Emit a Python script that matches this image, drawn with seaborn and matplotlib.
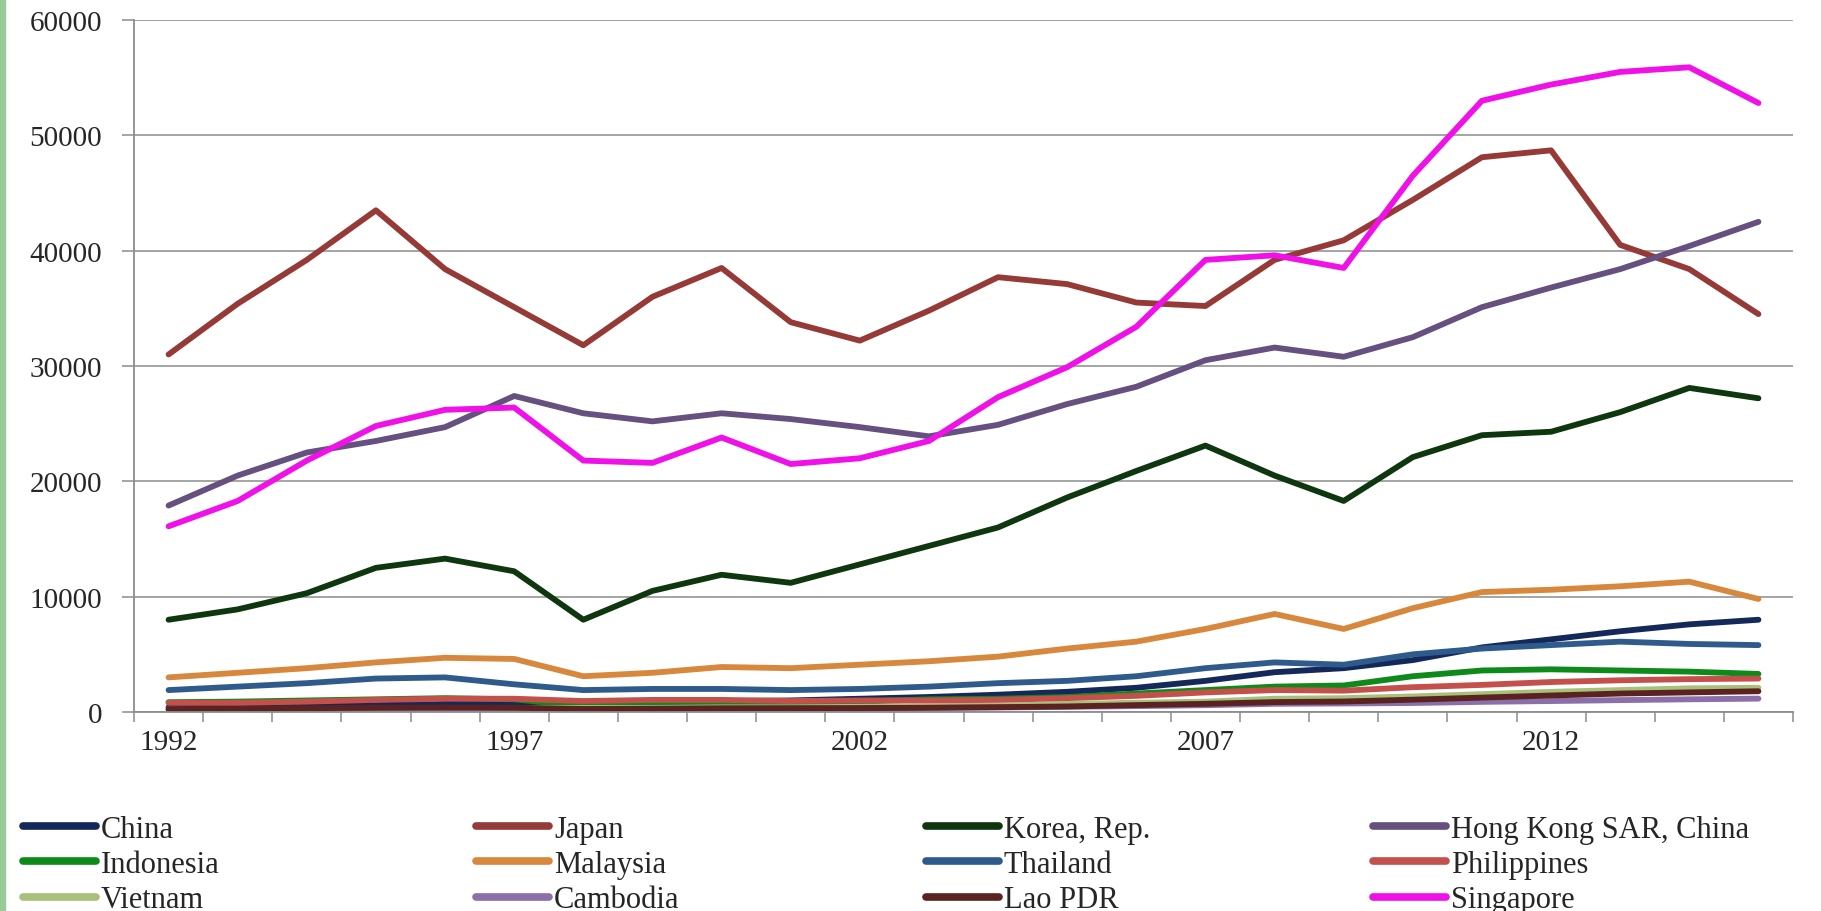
import pandas as pd
import matplotlib.pyplot as plt
import matplotlib.patches as mpatches
from matplotlib.lines import Line2D
import seaborn as sns

years = list(range(1992, 2016))

china = [400, 450, 480, 600, 700, 780, 800, 850, 950, 1000, 1150, 1300, 1500, 1750, 2100, 2700,
         3450, 3800, 4500, 5600, 6300, 7000, 7600, 8000]
japan = [31000, 35400, 39200, 43500, 38400, 35100, 31800, 36000, 38500, 33800, 32200, 34800, 37700,
         37100, 35500, 35200, 39200, 40900, 44400, 48100, 48700, 40500, 38400, 34500]
korea = [8000, 8900, 10300, 12500, 13300, 12200, 8000, 10500, 11900, 11200, 12800, 14400, 16000,
         18600, 20900, 23100, 20500, 18300, 22100, 24000, 24300, 26000, 28100, 27200]
hong_kong = [17900, 20500, 22500, 23500, 24700, 27400, 25900, 25200, 25900, 25400, 24700, 23900,
             24900, 26700, 28200, 30500, 31600, 30800, 32500, 35100, 36800, 38400, 40400, 42500]
indonesia = [850, 900, 1000, 1100, 1200, 1100, 500, 700, 800, 800, 900, 1100, 1150, 1300, 1600,
             1900, 2200, 2300, 3100, 3600, 3700, 3600, 3500, 3300]
malaysia = [3000, 3400, 3800, 4300, 4700, 4600, 3100, 3400, 3900, 3800, 4100, 4400, 4800, 5500,
            6100, 7200, 8500, 7200, 9000, 10400, 10600, 10900, 11300, 9800]
thailand = [1900, 2200, 2500, 2900, 3000, 2400, 1900, 2000, 2000, 1900, 2000, 2200, 2500, 2700,
            3100, 3800, 4300, 4100, 5000, 5500, 5800, 6100, 5900, 5800]
philippines = [800, 800, 900, 1050, 1150, 1150, 950, 1050, 1050, 950, 1000, 1000, 1050, 1200,
               1400, 1700, 1900, 1850, 2150, 2350, 2600, 2750, 2850, 2900]
vietnam = [150, 150, 200, 250, 300, 350, 350, 350, 400, 400, 450, 500, 550, 700, 800, 900, 1150,
           1200, 1350, 1550, 1750, 1900, 2050, 2100]
cambodia = [250, 250, 260, 290, 300, 300, 270, 290, 300, 310, 330, 350, 390, 450, 510, 590, 710,
            740, 780, 880, 950, 1030, 1100, 1160]
lao = [250, 300, 330, 370, 390, 370, 260, 280, 320, 330, 340, 370, 420, 480, 600, 710, 860, 910,
       1070, 1250, 1430, 1600, 1700, 1800]
singapore = [16100, 18300, 21800, 24800, 26200, 26400, 21800, 21600, 23800, 21500, 22000, 23500,
             27300, 29900, 33400, 39200, 39600, 38500, 46500, 53000, 54400, 55500, 55900, 52800]

countries = ["China", "Japan", "Korea, Rep.", "Hong Kong SAR, China",
             "Indonesia", "Malaysia", "Thailand", "Philippines",
             "Vietnam", "Cambodia", "Lao PDR", "Singapore"]
series = [china, japan, korea, hong_kong, indonesia, malaysia, thailand, philippines,
          vietnam, cambodia, lao, singapore]
colors = ["#14285A", "#963A37", "#0F370F", "#65507F",
          "#0E8A1A", "#D8883C", "#2F5B8C", "#C4504C",
          "#A9C07A", "#8A6FA8", "#5A2220", "#F010E8"]

# draw order as in the original (Singapore ends up on top)
draw_order = ["China", "Indonesia", "Vietnam", "Japan", "Malaysia", "Cambodia",
              "Korea, Rep.", "Thailand", "Lao PDR", "Hong Kong SAR, China",
              "Philippines", "Singapore"]

rows = []
for name, vals in zip(countries, series):
    for y, v in zip(years, vals):
        rows.append({"Year": y, "Value": v, "Country": name})
df = pd.DataFrame(rows)
palette = dict(zip(countries, colors))

sns.set_style("white")
plt.rcParams["font.family"] = ["Liberation Serif", "DejaVu Serif"]

fig = plt.figure(figsize=(18.21, 9.12), dpi=100)
ax = fig.add_axes([134 / 1821, 1 - 713 / 912, (1793 - 134) / 1821, (713 - 21) / 912])

sns.lineplot(data=df, x="Year", y="Value", hue="Country", hue_order=draw_order,
             palette=palette, linewidth=4.2, ax=ax, legend=False)

# light green strip on the left edge
fig.patches.append(mpatches.Rectangle((0, 0), 5 / 1821, 1, transform=fig.transFigure,
                                      color="#98CB98", zorder=0))

ax.set_xlim(years[0] - 0.5, years[-1] + 0.5)
ax.set_ylim(0, 60000)
ax.set_yticks(range(0, 60001, 10000))
ax.set_xticks([1992, 1997, 2002, 2007, 2012])
ax.set_xticks([y - 0.5 for y in years] + [years[-1] + 0.5], minor=True)
ax.set_xlabel("")
ax.set_ylabel("")

ax.yaxis.grid(True, color="#8C8C8C", linewidth=1.1)
ax.set_axisbelow(True)
for side in ["top", "right"]:
    ax.spines[side].set_visible(False)
for side in ["left", "bottom"]:
    ax.spines[side].set_color("#8C8C8C")
    ax.spines[side].set_linewidth(1.3)

ax.tick_params(axis="y", length=9, width=1.1, color="#8C8C8C", pad=14, labelsize=21,
               left=True)
ax.tick_params(axis="x", which="major", length=0, pad=12, labelsize=21)
ax.tick_params(axis="x", which="minor", length=7, width=1.1, color="#8C8C8C", bottom=True)

# legend: four columns, three rows, row-major order
col_x = [23, 476, 926, 1373]
for c in range(4):
    names = [countries[c + 4 * r] for r in range(3)]
    handles = [Line2D([], [], color=palette[n], linewidth=5.5) for n in names]
    fig.legend(handles, names, loc="upper left",
               bbox_to_anchor=(col_x[c] / 1821, 1 - 816 / 912),
               frameon=False, fontsize=22, handlelength=2.4, handletextpad=0.15,
               labelspacing=0.2, borderpad=0, borderaxespad=0)

fig.savefig("out.png", dpi=100)
